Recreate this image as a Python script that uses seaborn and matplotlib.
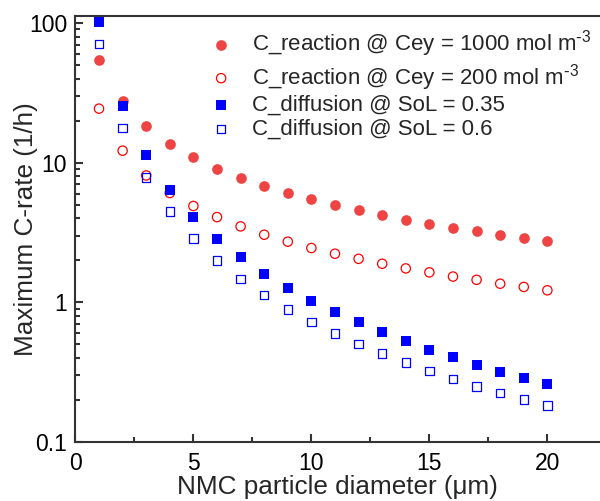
import numpy as np
import pandas as pd
import matplotlib.pyplot as plt
import matplotlib.ticker as ticker
import seaborn as sns

# particle diameters (um)
diameter = list(range(1, 21))

# maximum C-rate values (1/h)
reaction_1000 = [54.3, 27.5, 18.2, 13.7, 10.9, 9.06, 7.77, 6.81, 6.07, 5.50,
                 4.98, 4.58, 4.22, 3.91, 3.64, 3.43, 3.22, 3.03, 2.89, 2.75]
reaction_200 = [24.4, 12.2, 8.11, 6.07, 4.90, 4.08, 3.50, 3.05, 2.72, 2.45,
                2.23, 2.05, 1.89, 1.75, 1.64, 1.53, 1.45, 1.36, 1.29, 1.22]
diffusion_035 = [101.6, 25.6, 11.3, 6.41, 4.11, 2.84, 2.10, 1.60, 1.27, 1.03,
                 0.853, 0.719, 0.610, 0.526, 0.458, 0.404, 0.358, 0.319, 0.287, 0.259]
diffusion_06 = [71.1, 17.8, 7.85, 4.48, 2.87, 2.00, 1.47, 1.13, 0.891, 0.723,
                0.597, 0.503, 0.429, 0.370, 0.322, 0.282, 0.250, 0.224, 0.202, 0.182]

labels = [r'C_reaction @ Cey = 1000 mol m$^{\text{-}3}$',
          r'C_reaction @ Cey = 200 mol m$^{\text{-}3}$',
          'C_diffusion @ SoL = 0.35',
          'C_diffusion @ SoL = 0.6']

df = pd.DataFrame({'d': diameter, 'r1000': reaction_1000, 'r200': reaction_200,
                   'd035': diffusion_035, 'd06': diffusion_06})

sns.set_style('ticks')
plt.rcParams['font.family'] = ['Liberation Sans', 'DejaVu Sans']
plt.rcParams['mathtext.default'] = 'regular'

spine_col = '#333333'
red_fill = '#EE4444'
red = '#FF0000'
blue = '#0000FF'

fig = plt.figure(figsize=(6, 5.01), dpi=100)
ax = fig.add_axes([0.1257, 0.1178, 0.8743, 0.8509])

sns.scatterplot(data=df, x='d', y='r1000', ax=ax, marker='o', s=59,
                color=red_fill, linewidth=0, label=labels[0])
sns.scatterplot(data=df, x='d', y='r200', ax=ax, marker='o', s=45,
                color=red, facecolor='none', edgecolor=red, linewidth=0.9,
                label=labels[1])
sns.scatterplot(data=df, x='d', y='d035', ax=ax, marker='s', s=49,
                color=blue, linewidth=0, label=labels[2])
sns.scatterplot(data=df, x='d', y='d06', ax=ax, marker='s', s=37,
                color=blue, facecolor='none', edgecolor=blue, linewidth=0.9,
                label=labels[3])

ax.set_yscale('log')
ax.set_xlim(0, 22.23)
ax.set_ylim(0.1, 113)

ax.xaxis.set_major_locator(ticker.MultipleLocator(5))
ax.xaxis.set_minor_locator(ticker.MultipleLocator(2.5))
ax.yaxis.set_major_locator(ticker.FixedLocator([0.1, 1, 10, 100]))
ax.yaxis.set_minor_locator(ticker.LogLocator(base=10, subs=np.arange(2, 10)))
ax.yaxis.set_major_formatter(ticker.FuncFormatter(lambda v, p: f'{v:g}'))
ax.yaxis.set_minor_formatter(ticker.NullFormatter())

ax.tick_params(which='both', direction='in', color=spine_col, width=1.5,
               labelsize=16.5, labelcolor='black')
ax.tick_params(which='major', length=6)
ax.tick_params(which='minor', length=3.5)
ax.tick_params(axis='x', pad=7)
ax.tick_params(axis='y', pad=6)

for side in ['left', 'bottom', 'top']:
    ax.spines[side].set_color(spine_col)
    ax.spines[side].set_linewidth(1.5)
ax.spines['right'].set_visible(False)

ax.set_xlabel('NMC particle diameter (\u03bcm)', fontsize=18.8, labelpad=0)
ax.set_ylabel('Maximum C-rate (1/h)', fontsize=18.8)
ax.yaxis.set_label_coords(-0.072, 0.5)

ax.legend(frameon=False, fontsize=16.0, loc='upper left',
          bbox_to_anchor=(0.2566, 0.971), handlelength=1.0, handletextpad=0.87,
          labelspacing=0.12, borderaxespad=0, borderpad=0)

fig.savefig('out.png', dpi=100)
